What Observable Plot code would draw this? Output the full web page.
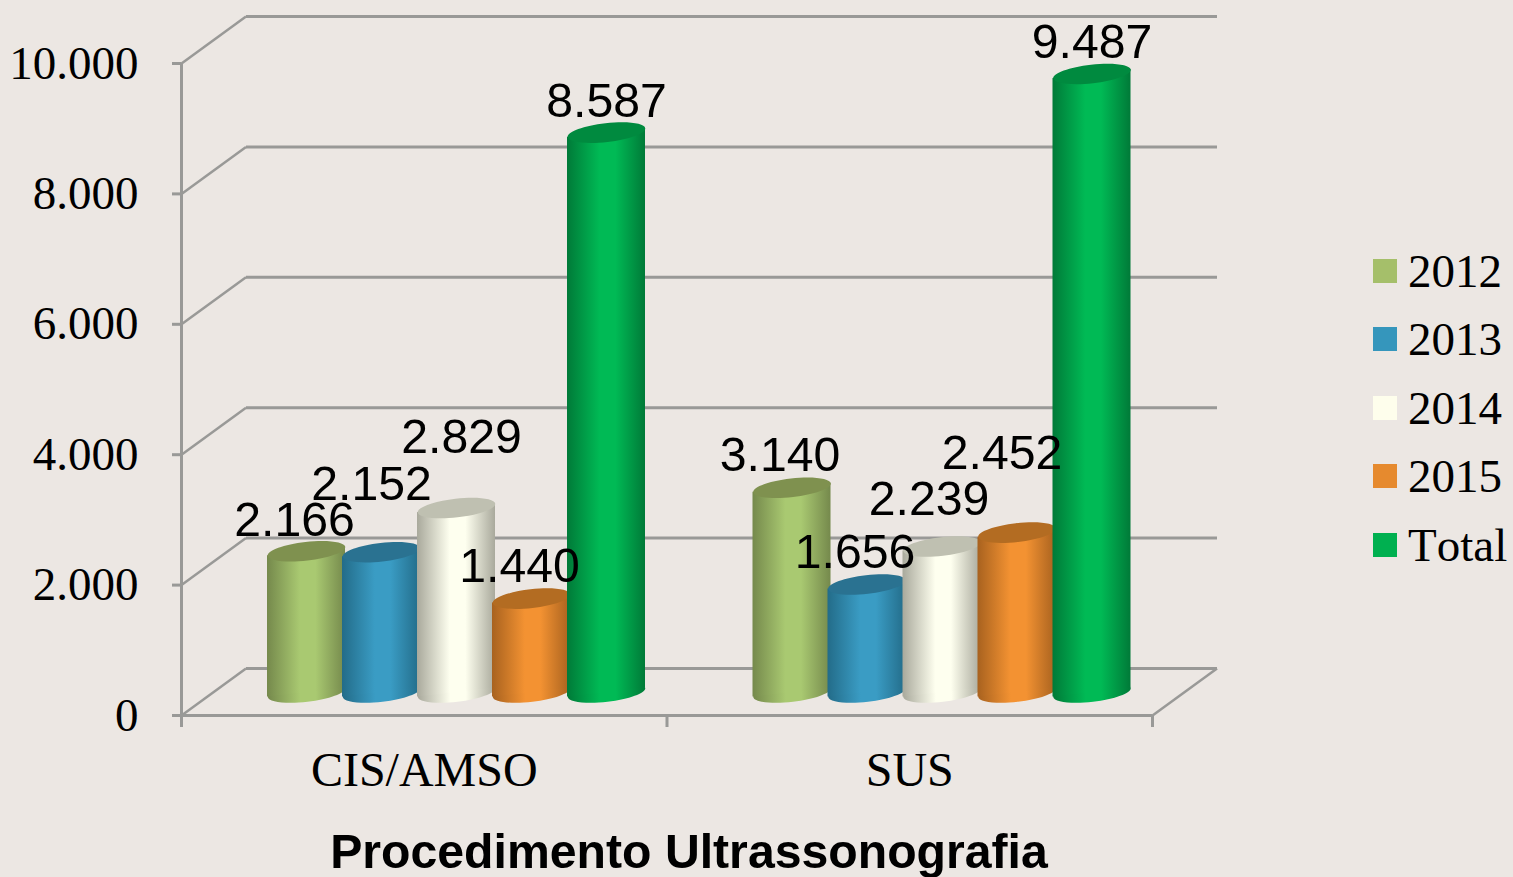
<!DOCTYPE html>
<html lang="pt">
<head>
<meta charset="utf-8">
<script src="https://cdn.jsdelivr.net/npm/d3@7"></script>
<script src="https://cdn.jsdelivr.net/npm/@observablehq/plot@0.6"></script>
<style>
  html,body{margin:0;padding:0;background:#ece7e3;width:1513px;height:877px;overflow:hidden}
  #chart{position:absolute;left:0;top:0}
  #legend{position:absolute;left:1373px;top:236.5px;font:47px "Liberation Serif",serif;color:#000;font-kerning:none}
  #legend .row{display:flex;align-items:center;height:68.5px}
  #legend .sw{width:24px;height:24px;margin-right:11px}
</style>
</head>
<body>
<div id="chart"></div>
<div id="legend"></div>
<script>
const groups = ["CIS/AMSO", "SUS"];
const series = ["2012", "2013", "2014", "2015", "Total"];
const cisAmso = [2166, 2152, 2829, 1440, 8587];
const sus = [3140, 1656, 2239, 2452, 9487];
const yTicks = [0, 2000, 4000, 6000, 8000, 10000];
const midColors = ["#a9c971", "#3a9cc4", "#feffef", "#f39232", "#00ba55"];
const edgeColors = ["#75894c", "#236c89", "#a9a99c", "#a8621f", "#007a38"];
const topColors = ["#7f914f", "#2a7291", "#bfc0b1", "#b36c22", "#008a3f"];
const legendColors = ["#a5bf6a", "#3596bc", "#fefeec", "#e68a2e", "#00b050"];
// label offsets (px) from the top of each cylinder
const labelDx = [[-12, -10, 5, -12, 0], [-12, -12, -13, -15, 0]];
const labelDy = [[-31, -68, -70, -32, -31], [-32, -32, -47, -79, -31]];

const pxPerGroup = 485.5, pxPerUnit = 0.0652;
const barCenter = 125 / pxPerGroup, barStep = 75 / pxPerGroup, barHalf = 39 / pxPerGroup;
const depthX = 64.5 / pxPerGroup, depthY = 47 / pxPerUnit;
const tilt = 4.5 / pxPerUnit, lift = -23;
const fmt = d3.formatLocale({decimal: ",", thousands: ".", grouping: [3], currency: ["R$", ""]}).format(",d");
const grid = "#999997";

const ellipse = {
  draw(ctx, size) {
    const rx = Math.sqrt(size / Math.PI), ry = rx * 0.24, k = 0.5523;
    const a = -6.5 * Math.PI / 180, c = Math.cos(a), s = Math.sin(a);
    const X = (x, y) => x * c - y * s, Y = (x, y) => x * s + y * c;
    const C = (a1, b1, a2, b2, a3, b3) => ctx.bezierCurveTo(X(a1, b1), Y(a1, b1), X(a2, b2), Y(a2, b2), X(a3, b3), Y(a3, b3));
    ctx.moveTo(X(rx, 0), Y(rx, 0));
    C(rx, k * ry, k * rx, ry, 0, ry);
    C(-k * rx, ry, -rx, k * ry, -rx, 0);
    C(-rx, -k * ry, -k * rx, -ry, 0, -ry);
    C(k * rx, -ry, rx, -k * ry, rx, 0);
    ctx.closePath();
  }
};

const rows = [cisAmso, sus].flatMap((vals, g) => vals.map((value, i) => ({
  group: groups[g], series: series[i], i, value,
  x: g + barCenter + i * barStep,
  dx: labelDx[g][i], dy: labelDy[g][i]
})));

function defs() {
  const d = d3.create("svg:defs");
  series.forEach((s, i) => {
    const lg = d.append("linearGradient").attr("id", "cyl" + i).attr("x1", 0).attr("x2", 1).attr("y1", 0).attr("y2", 0);
    [[0, edgeColors[i]], [0.42, midColors[i]], [0.62, midColors[i]], [1, edgeColors[i]]].forEach(([o, c]) =>
      lg.append("stop").attr("offset", o).attr("stop-color", c));
  });
  return d.node();
}

const cylinder = r => {
  const fill = `url(#cyl${r.i})`;
  const body = [
    {x: r.x - barHalf, y1: -tilt, y2: r.value - tilt},
    {x: r.x + barHalf, y1: tilt, y2: r.value + tilt}
  ];
  return [
    Plot.dot([r], {x: "x", y: () => 0, r: 39, symbol: ellipse, fill, stroke: "none", dy: lift}),
    Plot.areaY(body, {x: "x", y1: "y1", y2: "y2", fill, dy: lift}),
    Plot.dot([r], {x: "x", y: "value", r: 39, symbol: ellipse, fill: topColors[r.i], stroke: "none", dy: lift})
  ];
};

const chart = Plot.plot({
  width: 1513, height: 877,
  marginLeft: 181, marginRight: 361, marginTop: 63, marginBottom: 162,
  style: {background: "#ece7e3", overflow: "visible"},
  x: {domain: [0, 2], axis: null},
  y: {domain: [0, 10000], axis: null},
  marks: [
    defs,
    // back wall and side wall
    Plot.link(yTicks, {x1: () => depthX, x2: () => 2 + depthX, y1: d => d + depthY, y2: d => d + depthY, stroke: grid, strokeWidth: 3}),
    Plot.link(yTicks, {x1: () => 0, x2: () => depthX, y1: d => d, y2: d => d + depthY, stroke: grid, strokeWidth: 2.5}),
    Plot.link([2], {x1: d => d, x2: d => d + depthX, y1: () => 0, y2: () => depthY, stroke: grid, strokeWidth: 2.5}),
    // axes
    Plot.ruleX([0], {y1: 0, y2: 10000, stroke: grid, strokeWidth: 3}),
    Plot.ruleY([0], {x1: 0, x2: 2, stroke: grid, strokeWidth: 3}),
    Plot.axisY({ticks: yTicks, tickFormat: fmt, tickSize: 9, tickPadding: 34, stroke: grid, strokeWidth: 3, fill: "#000", fontSize: 47, fontFamily: "Liberation Serif", label: null}),
    Plot.axisX({ticks: [0, 1, 2], tickFormat: () => "", tickSize: 12, stroke: grid, strokeWidth: 3, label: null}),
    Plot.axisX({ticks: [0.5, 1.5], tickFormat: d => groups[Math.floor(d)], tickSize: 0, tickPadding: 36, fill: "#000", fontSize: 48, fontFamily: "Liberation Serif", label: null}),
    // cylinders
    ...rows.flatMap(cylinder),
    // value labels
    ...rows.map(r => Plot.text([r], {x: "x", y: "value", text: d => fmt(d.value), dx: r.dx, dy: r.dy + lift, fontSize: 48.2, fontFamily: "Liberation Sans", fill: "#000"})),
    // axis title
    Plot.text(["Procedimento Ultrassonografia"], {frameAnchor: "bottom", dx: 22, dy: 152, fontSize: 48.2, fontWeight: "bold", fontFamily: "Liberation Sans", fill: "#000"})
  ]
});
document.getElementById("chart").appendChild(chart);

const legend = d3.select("#legend");
series.forEach((s, i) => {
  const row = legend.append("div").attr("class", "row");
  row.append("div").attr("class", "sw").style("background", legendColors[i]);
  row.append("span").text(s);
});
</script>
</body>
</html>
